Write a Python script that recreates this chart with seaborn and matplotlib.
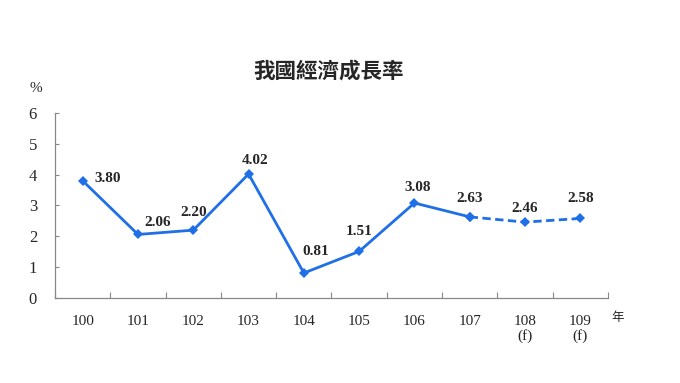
import matplotlib
matplotlib.use("Agg")
import matplotlib.pyplot as plt
import seaborn as sns
import pandas as pd
from matplotlib.ticker import FixedLocator

years = ["100", "101", "102", "103", "104", "105", "106", "107", "108\n(f)", "109\n(f)"]
growth = [3.80, 2.06, 2.20, 4.02, 0.81, 1.51, 3.08, 2.63, 2.46, 2.58]
value_labels = ["3.80", "2.06", "2.20", "4.02", "0.81", "1.51", "3.08", "2.63", "2.46", "2.58"]
n_actual = 8  # 100..107 actual, 108-109 forecast

sns.set_theme(style="white")
plt.rcParams['font.family'] = ['Liberation Serif', 'Noto Sans CJK TC', 'DejaVu Sans']
plt.rcParams['xtick.direction'] = 'in'
plt.rcParams['ytick.direction'] = 'in'

df = pd.DataFrame({"x": range(len(years)), "y": growth})
actual = df.iloc[:n_actual]
forecast = df.iloc[n_actual - 1:]

fig = plt.figure(figsize=(6.8, 3.83), dpi=100)
ax = fig.add_axes([0.081, 0.222, 0.813, 0.483])
color = "#1f6fe6"
sns.lineplot(data=actual, x="x", y="y", ax=ax, color=color, lw=2.0,
             marker="D", markersize=5, markeredgewidth=0)
sns.lineplot(data=forecast, x="x", y="y", ax=ax, color=color, lw=2.0,
             linestyle=(0, (3, 1.6)), marker="D", markersize=5, markeredgewidth=0)

ax.set_xlim(-0.5, len(years) - 0.5)
ax.set_ylim(0, 6)
ax.set_yticks(range(0, 7))
ax.set_xticks(range(len(years)))
ax.set_xticklabels(years, fontsize=11, linespacing=1.1)
ax.xaxis.set_minor_locator(FixedLocator([i - 0.5 for i in range(len(years) + 1)]))
ax.tick_params(axis="x", which="major", length=0, pad=12, labelsize=11)
ax.tick_params(axis="x", which="minor", direction="in", length=4, color="#888888", width=0.8, bottom=True)
ax.tick_params(axis="y", which="major", direction="in", length=3, color="#888888", width=0.8,
               pad=13, labelsize=12, left=True)
ax.set_xlabel("")
ax.set_ylabel("")
for s in ["top", "right"]:
    ax.spines[s].set_visible(False)
for s in ["left", "bottom"]:
    ax.spines[s].set_color("#888888")
    ax.spines[s].set_linewidth(0.9)

# label offsets in pixels (dx, dy)
offsets = [(25, 2), (20, 12), (0, 18), (6, 14), (12, 22), (0, 20), (3, 16), (0, 18), (0, 14), (0, 20)]
for i, (v, t) in enumerate(zip(growth, value_labels)):
    dx, dy = offsets[i]
    ax.annotate(t, (i, v), xytext=(dx, dy), textcoords="offset pixels",
                ha="center", va="center", fontsize=11, fontweight="bold")

fig.text(0.052, 0.768, "%", fontsize=11, ha="center", va="center")
fig.text(0.908, 0.17, "年", fontsize=9, ha="center", va="center",
         family=['Noto Sans CJK TC', 'DejaVu Sans'])
fig.text(0.483, 0.815, "我國經濟成長率", fontsize=15.5, fontweight="bold", ha="center", va="center",
         family=['Noto Sans CJK TC', 'DejaVu Sans'])

fig.savefig("out.png", dpi=100)
